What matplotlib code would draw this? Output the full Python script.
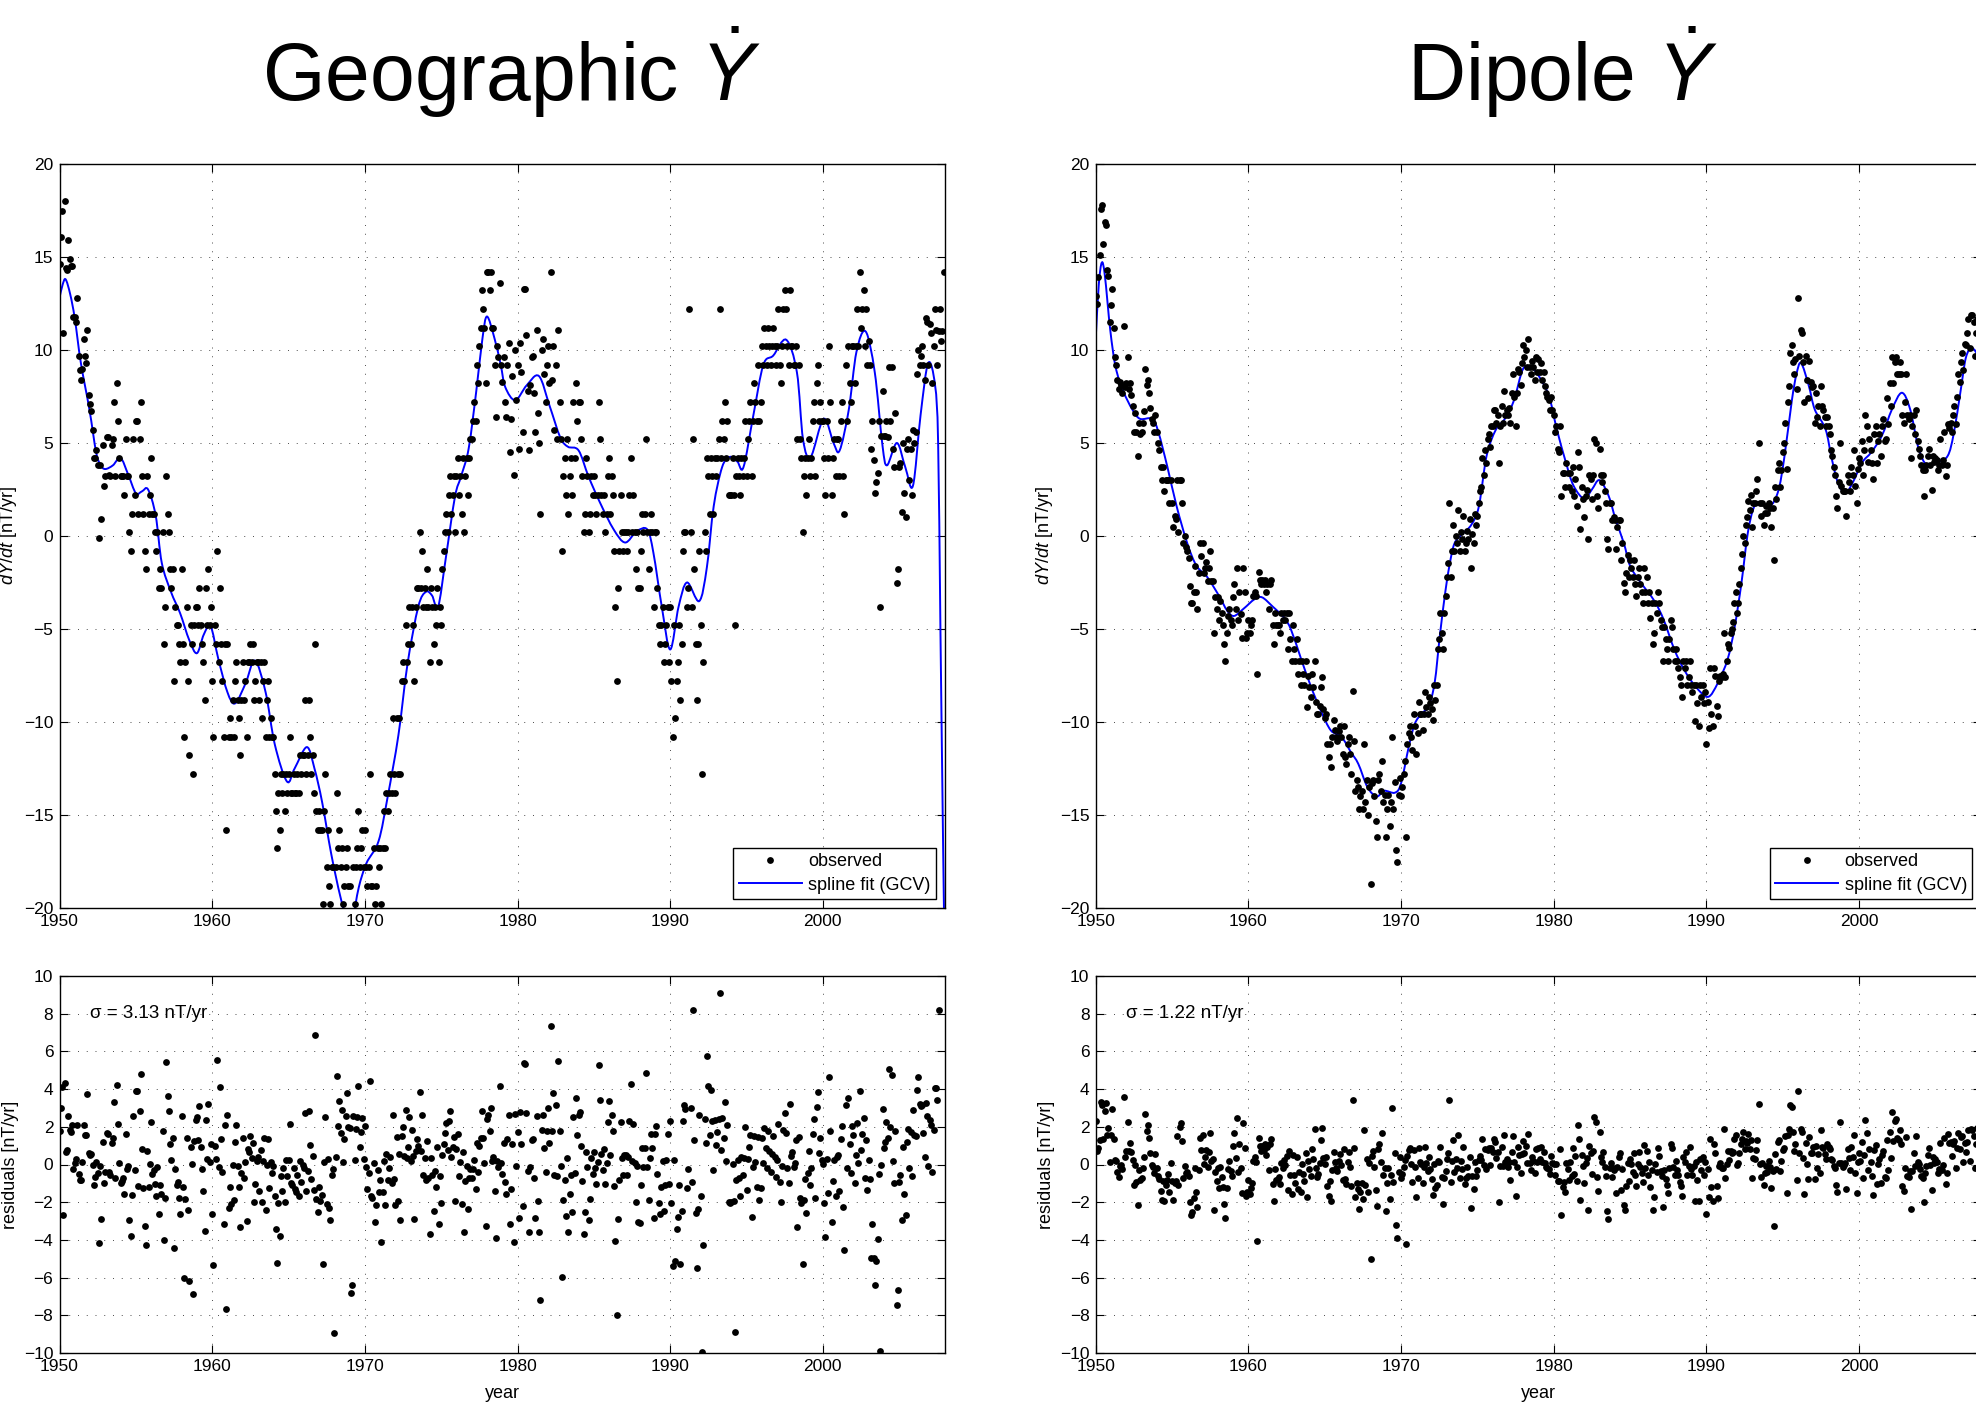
#!/usr/bin/env python3
import numpy as np
import matplotlib

matplotlib.use("Agg")
import matplotlib.pyplot as plt
from matplotlib.path import Path
from matplotlib.patches import PathPatch

plt.rcParams["font.family"] = ["Liberation Sans", "DejaVu Sans"]
plt.rcParams["mathtext.fontset"] = "custom"
plt.rcParams["mathtext.rm"] = "Liberation Sans"
plt.rcParams["mathtext.it"] = "Liberation Sans:italic"

# monthly observations, one row per year starting 1950
START_YEAR = 1950

geo_obs = [
    [14.6, 16.1, 17.5, 10.9, 18.0, 14.4, 14.3, 15.9, 14.9, 14.5, 14.5, 11.8],
    [11.8, 11.5, 12.8, 9.7, 8.9, 8.4, 9.0, 10.6, 9.7, 9.3, 11.1, 7.6],
    [7.1, 6.7, 5.7, 4.2, 4.2, 4.6, 3.8, -0.1, 3.8, 0.9, 4.9, 2.7],
    [3.2, 5.3, 5.3, 3.3, 3.2, 4.9, 5.2, 7.2, 3.2, 8.2, 6.2, 4.2],
    [3.2, 3.2, 3.2, 2.2, 5.2, 3.2, 3.2, 0.2, -0.8, 1.2, 5.2, 2.2],
    [6.2, 6.2, 1.2, 5.2, 7.2, 3.2, 1.2, -0.8, -1.8, 3.2, 1.2, 2.2],
    [4.2, 1.2, 1.2, 0.2, -0.8, 0.2, -2.8, -1.8, -2.8, 0.2, -5.8, -3.8],
    [3.2, 1.2, 0.2, -1.8, -2.8, -1.8, -7.8, -3.8, -4.8, -4.8, -5.8, -6.8],
    [-1.8, -5.8, -10.8, -6.8, -3.8, -7.8, -11.8, -4.8, -5.8, -12.8, -4.8, -3.8],
    [-3.8, -4.8, -2.8, -4.8, -5.8, -6.8, -8.8, -2.8, -4.8, -1.8, -4.8, -3.8],
    [-7.8, -10.8, -4.8, -5.8, -0.8, -6.8, -2.8, -5.8, -7.8, -10.8, -5.8, -15.8],
    [-5.8, -10.8, -9.8, -10.8, -8.8, -10.8, -7.8, -6.8, -8.8, -9.8, -11.8, -8.8],
    [-6.8, -8.8, -7.8, -10.8, -6.8, -6.8, -5.8, -6.8, -5.8, -8.8, -7.8, -6.8],
    [-6.8, -8.8, -6.8, -9.8, -7.8, -6.8, -10.8, -8.8, -7.8, -10.8, -9.8, -10.8],
    [-10.8, -12.8, -14.8, -16.8, -13.8, -15.8, -12.8, -13.8, -12.8, -14.8, -12.8, -13.8],
    [-12.8, -10.8, -13.8, -13.8, -12.8, -13.8, -13.8, -12.8, -13.8, -11.8, -12.8, -11.8],
    [-11.8, -8.8, -12.8, -11.8, -8.8, -10.8, -12.8, -11.8, -13.8, -5.8, -14.8, -15.8],
    [-14.8, -15.8, -15.8, -19.8, -14.8, -12.8, -17.8, -15.8, -18.8, -19.8, -17.8, -17.8],
    [-26.8, -17.8, -13.8, -16.8, -15.8, -17.8, -16.8, -19.8, -18.8, -17.8, -16.8, -18.8],
    [-18.8, -27.5, -27.0, -17.8, -19.8, -17.8, -16.8, -14.8, -17.8, -16.8, -15.8, -17.8],
    [-15.8, -17.8, -18.8, -17.8, -12.8, -18.8, -18.8, -16.8, -19.8, -18.8, -16.8, -17.8],
    [-16.8, -19.8, -16.8, -14.8, -16.8, -13.8, -14.8, -13.8, -12.8, -13.8, -9.8, -12.8],
    [-13.8, -9.8, -12.8, -9.8, -12.8, -7.8, -6.8, -7.8, -4.8, -6.8, -5.8, -3.8],
    [-5.8, -3.8, -4.8, -7.8, -3.8, -2.8, -2.8, 0.2, -2.8, -0.8, -3.8, -2.8],
    [-3.8, -1.8, -3.8, -6.8, -2.8, -3.8, -5.8, -3.8, -4.8, -2.8, -6.8, -3.8],
    [-4.8, -1.8, -0.8, 0.2, 1.2, 0.2, 2.2, 3.2, 1.2, 2.2, 3.2, 0.2],
    [3.2, 4.2, 2.2, 3.2, 1.2, 4.2, 0.2, 3.2, 4.2, 2.2, 4.2, 5.2],
    [5.2, 6.2, 7.2, 6.2, 9.2, 8.2, 10.2, 11.2, 13.2, 12.2, 11.2, 8.2],
    [14.2, 14.2, 13.2, 14.2, 11.2, 11.2, 9.2, 6.4, 10.2, 9.6, 13.6, 9.2],
    [8.3, 9.6, 7.2, 6.4, 9.2, 10.4, 4.5, 6.3, 8.6, 3.3, 10.0, 7.3],
    [9.2, 4.7, 10.4, 8.8, 5.6, 13.3, 13.3, 10.8, 7.8, 4.6, 8.1, 9.6],
    [9.7, 7.7, 5.6, 11.1, 6.6, 5.0, 1.2, 10.0, 10.6, 8.7, 7.2, 9.2],
    [10.2, 8.2, 14.2, 8.4, 10.2, 5.7, 9.2, 5.2, 11.1, 7.2, 5.2, -0.8],
    [3.2, 4.2, 2.2, 5.2, 1.2, 3.2, 4.2, 2.2, 7.2, 4.2, 8.2, 6.2],
    [7.2, 7.2, 5.2, 3.2, 0.2, 1.2, 4.2, 3.2, 0.2, 1.2, 3.2, 2.2],
    [3.2, 2.2, 1.2, 2.2, 7.2, 5.2, 2.2, 1.2, 2.2, 0.2, 1.2, 3.2],
    [4.2, 1.2, 3.2, 2.2, -0.8, -3.8, -7.8, -2.8, -0.8, 2.2, 0.2, -0.8],
    [0.2, 0.2, -0.8, 0.2, 2.2, 4.2, 0.2, 2.2, 0.2, -1.8, 0.2, -2.8],
    [-2.8, -0.8, 1.2, 0.2, 1.2, 5.2, 0.2, -1.8, 0.2, 1.2, 0.2, -3.8],
    [0.2, 0.2, -2.8, -4.8, -5.8, -4.8, -3.8, -6.8, -5.8, -4.8, -3.8, -6.8],
    [-3.8, -7.8, -10.8, -4.8, -9.8, -7.8, -6.8, -4.8, -8.8, -5.8, -0.8, 0.2],
    [0.2, -3.8, -2.8, 12.2, 0.2, -3.8, 5.2, -1.8, -5.8, -8.8, -5.8, -0.8],
    [-4.8, -12.8, -6.8, 0.2, -0.8, 4.2, 3.2, 1.2, 4.2, 3.2, 1.2, 4.2],
    [3.2, 4.2, 5.2, 12.2, 4.2, 6.2, 5.2, 7.2, 4.2, 6.2, 2.2, 2.2],
    [2.2, 4.2, 2.2, -4.8, 3.2, 4.2, 3.2, 2.2, 4.2, 3.2, 4.2, 6.2],
    [3.2, 5.2, 6.2, 7.2, 3.2, 6.2, 8.2, 7.2, 6.2, 9.2, 6.2, 7.2],
    [10.2, 9.2, 11.2, 10.2, 9.2, 11.2, 10.2, 9.2, 10.2, 11.2, 10.2, 9.2],
    [10.2, 12.2, 9.2, 8.2, 10.2, 12.2, 13.2, 12.2, 10.2, 9.2, 13.2, 10.2],
    [10.2, 9.2, 9.2, 10.2, 5.2, 9.2, 5.2, 4.2, 0.2, 3.2, 4.2, 2.2],
    [4.2, 5.2, 3.2, 4.2, 6.2, 7.2, 3.2, 8.2, 9.2, 6.2, 7.2, 6.2],
    [6.2, 4.2, 2.2, 6.2, 4.2, 10.2, 7.2, 2.2, 4.2, 5.2, 3.2, 5.2],
    [5.2, 3.2, 6.2, 7.2, 3.2, 1.2, 9.2, 6.2, 10.2, 8.2, 7.2, 10.2],
    [10.2, 8.2, 10.2, 12.2, 10.2, 14.2, 11.2, 12.2, 13.2, 10.2, 12.2, 9.2],
    [10.5, 9.2, 4.7, 6.2, 4.1, 2.3, 2.9, 3.4, 6.2, -3.8, 5.4, 7.8],
    [5.4, 5.4, 6.2, 5.3, 9.1, 6.2, 9.1, 4.7, 3.7, 6.6, -2.5, -1.8],
    [3.7, 3.9, 1.3, 5.0, 2.3, 1.0, 4.7, 5.2, 3.0, 4.7, 2.2, 5.7],
    [5.0, 5.6, 8.7, 10.0, 9.2, 9.7, 10.2, 9.2, 8.4, 11.7, 11.5, 9.2],
    [11.4, 10.9, 8.2, 10.2, 12.2, 11.1, 9.2, 11.0, 12.2, 10.5, 11.0, 14.2],
]

dip_obs = [
    [12.9, 12.5, 13.9, 15.1, 17.6, 17.8, 15.7, 16.9, 16.7, 14.3, 14.0, 11.5],
    [12.4, 13.3, 11.2, 9.6, 9.2, 8.4, 7.9, 8.3, 8.1, 7.7, 11.3, 8.0],
    [8.2, 9.6, 7.9, 8.2, 7.6, 7.0, 5.6, 6.6, 5.6, 4.3, 6.1, 5.5],
    [5.6, 6.1, 6.7, 9.0, 8.1, 8.4, 7.7, 6.9, 6.3, 6.1, 5.6, 6.5],
    [5.6, 5.0, 4.6, 3.7, 3.0, 3.7, 2.4, 3.0, 3.0, 3.0, 1.8, 3.0],
    [1.8, 0.5, 1.1, 0.9, 3.0, 0.2, 3.0, 3.0, 1.8, -0.4, 0.0, -0.6],
    [-0.8, -1.2, -2.7, -3.6, -3.6, -3.0, -1.6, -3.0, -3.9, -2.0, -0.4, -1.1],
    [-0.4, -2.0, -1.7, -1.4, -2.4, -1.7, -0.8, -2.4, -2.4, -5.2, -3.3, -3.9],
    [-3.3, -4.5, -3.5, -4.15, -4.8, -5.8, -6.7, -5.2, -4.3, -3.9, -4.5, -4.8],
    [-3.3, -2.6, -3.9, -1.7, -4.5, -3.0, -4.2, -5.5, -1.7, -3.0, -5.5, -5.2],
    [-4.5, -5.2, -4.8, -4.5, -3.25, -3.0, -3.25, -7.4, -1.95, -2.35, -2.6, -2.35],
    [-2.6, -2.35, -3.0, -2.6, -3.9, -2.6, -2.35, -4.8, -5.8, -4.15, -4.8, -4.8],
    [-4.8, -5.2, -4.15, -4.5, -4.15, -4.5, -4.15, -6.1, -4.15, -5.55, -6.7, -4.8],
    [-6.1, -6.7, -5.55, -7.4, -6.7, -8.0, -6.7, -7.4, -8.0, -6.7, -9.2, -7.5],
    [-8.1, -8.65, -7.4, -8.1, -6.7, -8.9, -9.55, -9.55, -9.15, -8.1, -7.6, -9.3],
    [-9.8, -9.55, -11.2, -11.9, -11.2, -12.4, -10.8, -9.9, -10.45, -10.8, -11.0, -10.5],
    [-10.2, -10.8, -11.7, -10.2, -11.9, -12.25, -11.2, -10.8, -11.7, -12.8, -8.35, -11.0],
    [-13.7, -13.1, -13.5, -14.7, -14.0, -13.7, -14.7, -11.2, -14.3, -13.1, -15.0, -13.5],
    [-18.7, -13.3, -13.1, -14.0, -15.3, -16.2, -13.1, -12.8, -13.7, -12.1, -14.3, -13.9],
    [-16.2, -14.7, -13.9, -15.6, -14.3, -10.8, -14.7, -13.2, -16.9, -17.5, -13.9, -13.0],
    [-14.0, -13.5, -12.8, -12.1, -16.2, -11.2, -10.6, -10.2, -10.8, -11.5, -9.55, -10.2],
    [-11.7, -10.6, -8.9, -9.55, -9.55, -10.45, -9.55, -8.4, -9.2, -9.55, -8.65, -9.0],
    [-9.3, -9.9, -8.0, -8.8, -8.0, -6.1, -5.55, -4.15, -5.2, -6.1, -4.15, -3.25],
    [-2.2, -1.45, 1.8, -2.2, -0.8, 0.6, -0.8, 0.0, -0.4, 1.4, -0.8, 0.2],
    [-0.15, 1.1, -0.8, -0.4, 0.25, -0.15, 0.9, -1.7, 0.1, -0.4, 1.2, 0.6],
    [1.1, 1.8, 2.4, 2.65, 4.2, 3.3, 4.6, 3.95, 5.2, 5.5, 4.8, 5.9],
    [5.9, 6.8, 6.8, 6.1, 6.5, 3.95, 5.9, 7.0, 6.1, 7.8, 6.5, 6.8],
    [6.5, 6.9, 6.1, 7.7, 8.7, 7.5, 5.9, 7.7, 9.0, 8.8, 8.1, 9.3],
    [10.25, 9.6, 10.0, 9.1, 10.6, 9.1, 8.7, 9.4, 9.1, 8.4, 9.6, 8.8],
    [9.5, 8.8, 9.3, 8.4, 8.8, 8.05, 7.7, 7.5, 7.3, 6.8, 7.5, 6.8],
    [6.5, 5.6, 5.9, 4.7, 4.5, 5.9, 2.15, 3.4, 3.4, 2.65, 3.95, 3.4],
    [2.65, 3.4, 2.4, 3.7, 2.15, 3.05, 1.6, 4.5, 3.7, 0.35, 2.65, 2.0],
    [1.0, 2.15, 2.5, -0.15, 3.3, 3.05, 2.0, 3.3, 5.2, 5.0, 2.15, 1.5],
    [4.7, 3.3, 2.9, 3.3, 2.4, 1.8, -0.15, -0.7, 1.8, 1.8, 0.85, 1.0],
    [0.85, -0.7, 0.5, 0.85, 0.85, -1.3, -0.4, -2.5, -3.0, -2.0, -1.0, -2.2],
    [-1.3, -1.7, -2.2, -1.3, -2.6, -3.25, -2.2, -1.7, -2.6, -3.0, -3.6, -1.7],
    [-3.0, -2.2, -3.6, -3.0, -4.4, -3.6, -5.8, -5.2, -3.6, -4.15, -3.0, -3.6],
    [-4.5, -4.9, -6.7, -4.9, -5.55, -6.1, -6.7, -5.55, -4.5, -4.9, -6.1, -6.7],
    [-6.1, -6.7, -7.1, -7.6, -8.0, -8.65, -6.7, -7.1, -6.7, -8.0, -7.6, -6.7],
    [-8.0, -8.4, -8.0, -9.95, -8.0, -9.0, -10.2, -8.0, -8.65, -8.0, -9.0, -8.4],
    [-11.2, -8.9, -10.3, -7.1, -9.55, -10.2, -7.1, -7.5, -9.15, -9.7, -7.8, -7.5],
    [-7.6, -7.4, -5.2, -7.6, -6.7, -5.8, -6.0, -5.2, -5.0, -4.6, -3.6, -3.0],
    [-4.15, -3.6, -2.6, -1.7, -0.95, 0.0, -0.4, 0.6, 1.0, 1.9, 1.4, 2.2],
    [0.5, 1.8, 1.8, 2.4, 3.05, 5.0, 1.8, 1.1, 1.8, 0.6, 1.25, 1.6],
    [1.25, 1.8, 1.5, 0.5, 1.5, -1.3, 2.65, 2.0, 3.55, 3.95, 2.65, 3.55],
    [4.5, 5.0, 6.1, 3.6, 7.2, 8.05, 9.85, 10.25, 9.35, 8.7, 9.5, 7.9],
    [12.8, 9.7, 11.1, 10.9, 9.35, 7.2, 9.7, 8.4, 7.4, 9.4, 8.3, 8.0],
    [8.05, 6.1, 7.7, 6.4, 7.0, 5.9, 8.05, 7.0, 6.8, 6.4, 5.9, 6.4],
    [5.9, 5.5, 4.6, 4.3, 3.7, 3.3, 2.15, 1.5, 2.9, 5.0, 2.7, 2.4],
    [2.4, 2.4, 1.1, 3.3, 2.9, 2.4, 3.7, 3.3, 4.6, 2.7, 1.8, 3.6],
    [4.2, 3.95, 5.1, 3.3, 4.6, 6.5, 5.9, 4.0, 5.2, 4.6, 3.95, 3.05],
    [5.5, 5.9, 3.95, 5.1, 5.5, 4.3, 5.9, 6.3, 5.1, 5.2, 7.4, 6.0],
    [8.2, 7.0, 9.6, 8.2, 9.35, 9.6, 8.7, 8.7, 9.35, 8.7, 6.5, 6.1],
    [7.2, 8.7, 6.5, 6.3, 6.5, 4.2, 5.9, 6.5, 5.5, 6.8, 5.1, 4.7],
    [4.3, 3.8, 3.55, 2.15, 3.55, 3.8, 4.3, 4.7, 3.8, 2.5, 4.3, 4.0],
    [4.2, 4.1, 3.55, 3.8, 5.2, 3.8, 4.1, 5.6, 3.2, 3.8, 6.0, 5.8],
    [6.1, 5.6, 6.5, 7.0, 6.0, 7.5, 8.7, 8.3, 9.35, 9.85, 8.9, 10.3],
    [10.25, 10.9, 11.65, 10.1, 11.9, 11.9, 11.5, 9.7, 10.9, 11.65, 10.5, 11.9],
]

# spline fit (year, value)
geo_fit_years = [
    1950.0, 1950.2, 1950.4, 1950.7, 1951.0, 1951.4, 1951.96, 1952.4, 1952.7, 1953.0,
    1953.5, 1954.0, 1954.5, 1955.0, 1955.4, 1955.8, 1956.3, 1956.7, 1957.3, 1957.9,
    1958.5, 1959.0, 1959.45, 1959.9, 1960.4, 1961.0, 1961.5, 1962.2, 1962.8, 1963.5,
    1964.1, 1964.9, 1965.4, 1966.2, 1966.7, 1967.2, 1967.8, 1968.4, 1968.9, 1969.2,
    1969.6, 1970.1, 1970.9, 1971.5, 1972.2, 1972.8, 1973.5, 1974.0, 1974.4, 1974.8,
    1975.3, 1975.9, 1976.3, 1976.8, 1977.3, 1977.7, 1978.0, 1978.5, 1978.9, 1979.2,
    1979.85, 1980.6, 1981.4, 1982.1, 1982.8, 1983.3, 1984.0, 1984.65, 1985.4, 1986.3,
    1987.05, 1987.8, 1988.5, 1988.9, 1989.45, 1990.0, 1990.55, 1991.1, 1991.9, 1992.4,
    1992.85, 1993.4, 1993.9, 1994.4, 1994.8, 1995.45, 1996.1, 1996.75, 1997.6, 1998.3,
    1998.7, 1999.2, 2000.05, 2000.7, 2001.1, 2001.7, 2002.2, 2002.8, 2003.4, 2003.9,
    2004.2, 2004.85, 2005.4, 2005.9, 2006.4, 2006.9, 2007.35, 2007.55, 2007.7, 2007.88,
    2008.0,
]
geo_fit_vals = [
    12.8, 13.5, 13.8, 13.0, 11.7, 9.3, 6.8, 4.5, 3.8, 3.6,
    3.8, 4.2, 3.3, 2.3, 2.4, 2.5, 1.1, -1.45, -3.0, -4.15,
    -5.6, -6.3, -5.3, -4.85, -6.6, -8.4, -9.0, -7.9, -6.7, -8.4,
    -11.2, -13.2, -12.5, -11.35, -12.5, -14.3, -17.1, -19.4, -20.8, -20.6,
    -18.9, -17.6, -16.4, -14.0, -10.7, -6.85, -3.8, -3.0, -3.2, -3.8,
    -1.2, 2.1, 3.2, 4.7, 7.8, 10.6, 11.8, 10.6, 9.2, 8.0,
    7.3, 8.1, 8.6, 7.0, 5.3, 4.8, 4.6, 3.2, 1.8, 0.35,
    -0.35, 0.25, 0.35, -0.9, -3.8, -6.1, -3.8, -2.5, -3.5, -1.7,
    1.6, 3.7, 4.25, 4.0, 3.7, 6.5, 9.2, 9.7, 10.55, 8.8,
    5.2, 4.25, 6.3, 5.0, 4.6, 6.8, 9.9, 11.0, 8.8, 4.9,
    3.8, 5.0, 3.7, 2.7, 6.5, 9.3, 8.1, 5.0, -5.0, -16.9,
    -24.0,
]

dip_fit_years = [
    1950.0, 1950.2, 1950.4, 1950.6, 1950.95, 1951.3, 1951.8, 1952.4, 1952.9, 1953.7,
    1954.1, 1954.7, 1955.3, 1956.0, 1956.6, 1957.3, 1958.1, 1958.6, 1959.05, 1959.7,
    1960.4, 1960.9, 1961.6, 1962.35, 1962.8, 1963.45, 1964.1, 1964.75, 1965.4, 1966.1,
    1966.7, 1967.2, 1967.8, 1968.4, 1968.9, 1969.6, 1970.0, 1970.5, 1970.9, 1971.35,
    1971.8, 1972.2, 1972.55, 1972.9, 1973.2, 1973.5, 1974.0, 1974.6, 1975.1, 1975.6,
    1976.2, 1976.8, 1977.4, 1978.0, 1978.6, 1979.1, 1979.7, 1980.2, 1980.8, 1981.3,
    1982.0, 1982.5, 1983.0, 1983.6, 1984.05, 1984.6, 1985.0, 1985.7, 1986.6, 1987.2,
    1987.9, 1988.55, 1989.3, 1990.1, 1990.75, 1991.4, 1991.85, 1992.3, 1992.7, 1993.05,
    1993.4, 1994.15, 1994.7, 1995.1, 1995.6, 1995.9, 1996.2, 1996.7, 1997.1, 1997.8,
    1998.2, 1998.6, 1999.1, 1999.6, 2000.2, 2000.8, 2001.5, 2002.15, 2002.8, 2003.35,
    2003.9, 2004.45, 2005.1, 2005.8, 2006.2, 2006.65, 2007.0, 2007.4, 2007.85, 2008.1,
]
dip_fit_vals = [
    10.6, 13.5, 14.7, 14.0, 11.1, 9.1, 7.8, 6.8, 6.3, 6.3,
    5.6, 3.7, 1.6, -0.4, -1.6, -2.2, -3.25, -4.0, -4.3, -3.9,
    -3.4, -3.3, -3.8, -4.4, -5.05, -6.6, -8.1, -9.4, -10.45, -10.8,
    -11.6, -12.25, -13.5, -14.0, -13.7, -13.8, -13.3, -11.35, -10.1, -9.55,
    -9.15, -7.9, -5.3, -3.0, -1.45, -0.4, 0.1, 0.6, 1.6, 4.3,
    5.7, 6.3, 7.3, 9.0, 9.0, 8.5, 7.5, 5.75, 3.95, 2.7,
    2.0, 2.5, 3.0, 2.15, 0.9, -0.4, -1.6, -2.5, -3.5, -4.5,
    -6.1, -7.2, -8.1, -8.65, -7.9, -6.6, -4.9, -2.5, 0.1, 1.4,
    1.8, 1.6, 2.4, 4.2, 7.3, 8.7, 9.3, 8.1, 6.8, 5.75,
    4.2, 2.9, 2.3, 2.9, 3.95, 4.5, 5.4, 6.8, 7.7, 6.8,
    4.7, 3.8, 3.95, 4.3, 5.5, 7.8, 9.6, 10.1, 9.6, 9.0,
]

panel_titles = ["Geographic $\\dot{Y}$", "Dipole $\\dot{Y}$"]
sigma_labels = ["\u03c3 = 3.13 nT/yr", "\u03c3 = 1.22 nT/yr"]

FIG_W, FIG_H = 1976, 1405
FS = 12.5


def smooth_path(xs, ys):
    # draw the fit through its read-off points with rounded (Bezier) joins
    p = np.column_stack([xs, ys]).astype(float)
    n = len(p)
    verts = [p[0]]
    codes = [Path.MOVETO]
    for i in range(n - 1):
        p0 = p[i - 1] if i > 0 else p[i]
        p1, p2 = p[i], p[i + 1]
        p3 = p[i + 2] if i + 2 < n else p[i + 1]
        verts += [p1 + (p2 - p0) / 6.0, p2 - (p3 - p1) / 6.0, p2]
        codes += [Path.CURVE4] * 3
    return Path(verts, codes)


def style_axes(ax, ylim, yticks):
    ax.set_xlim(1950, 2008)
    ax.set_ylim(*ylim)
    ax.set_xticks(range(1950, 2001, 10))
    ax.set_yticks(yticks)
    ax.tick_params(direction="in", top=True, right=True, length=5.5, width=0.8,
                   labelsize=FS, pad=4.5)
    ax.grid(True, color="0.3", linestyle=(0, (1, 8)), linewidth=0.7)
    ax.set_axisbelow(True)
    for spine in ax.spines.values():
        spine.set_linewidth(1.0)


def draw_panel(fig, left_px, title_x_px, obs_rows, fit_years, fit_vals, title, sigma):
    obs = np.array(obs_rows, dtype=float).ravel()
    t = START_YEAR + np.arange(obs.size) / 12.0
    fit_at_obs = np.interp(t, fit_years, fit_vals)
    resid = obs - fit_at_obs

    width = 885.5 / FIG_W
    x0 = left_px / FIG_W

    ax_top = fig.add_axes([x0, 1 - 908 / FIG_H, width, 744 / FIG_H])
    ax_top.plot(t, obs, "o", color="k", ms=4.9, mew=0, label="observed")
    ax_top.add_patch(PathPatch(smooth_path(fit_years, fit_vals), facecolor="none",
                               edgecolor="b", lw=1.4))
    ax_top.plot([], [], color="b", lw=1.4, label="spline fit (GCV)")
    style_axes(ax_top, (-20, 20), range(-20, 21, 5))
    ax_top.set_ylabel("$dY/dt$ [nT/yr]", fontsize=13)
    ax_top.yaxis.set_label_coords(-0.046, 0.5)
    leg = ax_top.legend(loc="lower right", bbox_to_anchor=(0.99, 0.012),
                        borderaxespad=0, fontsize=13, fancybox=False,
                        edgecolor="k", framealpha=1, handlelength=3.5,
                        handletextpad=0.35, labelspacing=0.35, borderpad=0.3,
                        numpoints=1)
    leg.get_frame().set_linewidth(1.0)

    ax_bot = fig.add_axes([x0, 1 - 1353 / FIG_H, width, 377 / FIG_H])
    ax_bot.plot(t, resid, "o", color="k", ms=4.9, mew=0)
    style_axes(ax_bot, (-10, 10), range(-10, 11, 2))
    ax_bot.set_ylabel("residuals [nT/yr]", fontsize=13)
    ax_bot.yaxis.set_label_coords(-0.046, 0.5)
    ax_bot.set_xlabel("year", fontsize=13, labelpad=8)
    ax_bot.text(1952, 8, sigma, fontsize=13.5, va="center", ha="left")

    fig.text(title_x_px / FIG_W, 1 - 101 / FIG_H, title, fontsize=58,
             ha="center", va="baseline")


def main() -> None:
    fig = plt.figure(figsize=(FIG_W / 100, FIG_H / 100), dpi=100)
    draw_panel(fig, 59.5, 512, geo_obs, geo_fit_years, geo_fit_vals,
               panel_titles[0], sigma_labels[0])
    draw_panel(fig, 1095.7, 1563, dip_obs, dip_fit_years, dip_fit_vals,
               panel_titles[1], sigma_labels[1])
    fig.savefig("out.png", dpi=100)
    plt.close(fig)


if __name__ == "__main__":
    main()
